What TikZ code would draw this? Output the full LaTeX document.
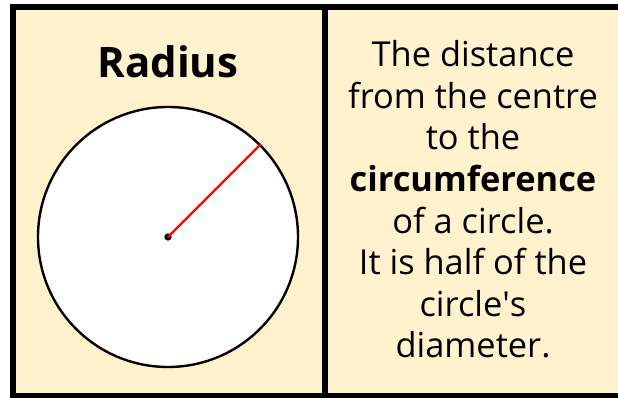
\documentclass[tikz,border=0pt]{standalone}
\usepackage{fontspec}
\setmainfont{Open Sans}
\definecolor{paper}{HTML}{FFF2CC}

\begin{document}
\begin{tikzpicture}[x=0.75pt,y=-0.75pt]
        % Marc i divisio
        \useasboundingbox (0,0) rectangle (618,398);
        \clip (0,0) rectangle (618,398);
        \draw[line width=4.5pt, fill=paper] (13,7) rectangle (622,396);
        \draw[line width=4.5pt] (325,7) -- (325,396);

        % Titol i cercle
        \node[anchor=base, font=\bfseries\fontsize{31.5}{36}\selectfont] (title) at (168,78) {Radius};
        \node[circle, draw, fill=white, line width=1.8pt, minimum size=195pt, inner sep=0pt] (disc) at (168,237) {};
        \node[circle, fill, inner sep=0pt, minimum size=5.5pt] (centre) at (disc.center) {};
        \coordinate (rim) at (disc.45);
        \draw[red, line width=1.8pt] (centre.center) -- (rim); % Radi

        % Text
        \node[anchor=base, align=center, font=\fontsize{25.8}{31.2}\selectfont] (desc) at (473,358)
            {The distance\\from the centre\\to the\\\textbf{circumference}\\of a circle.\\It is half of the\\circle\textquotesingle s\\diameter.};
    \end{tikzpicture}
\end{document}
